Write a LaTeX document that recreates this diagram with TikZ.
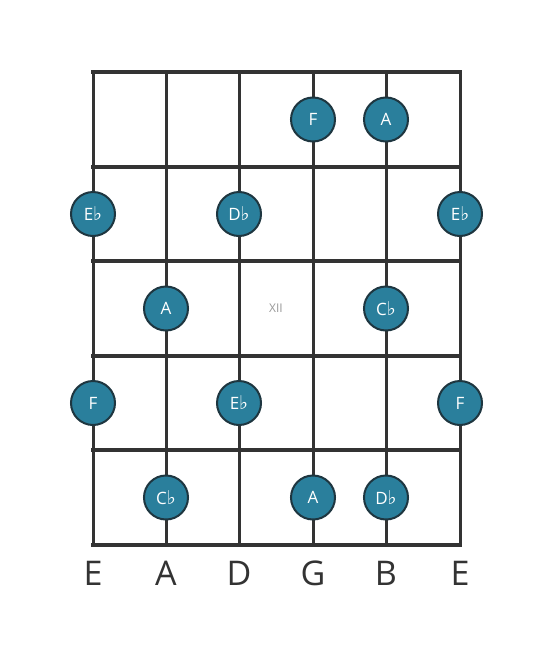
\documentclass[tikz,border=0pt]{standalone}
\usepackage{fontspec}
\setmainfont{Open Sans}
\newfontfamily\symfont{DejaVu Sans}
\definecolor{linec}{HTML}{333333}
\definecolor{dotfill}{HTML}{2A7F9C}
\definecolor{dotedge}{HTML}{1E3640}
\newcommand{\fl}{{\symfont\fontsize{19}{19}\selectfont ♭}}
\begin{document}
\begin{tikzpicture}[x=1pt,y=-1pt,
  fretline/.style={draw=linec,line width=4pt},
  stringline/.style={draw=linec,line width=3pt},
  notedot/.style={circle,fill=dotfill,draw=dotedge,line width=2pt,minimum size=44pt,inner sep=0pt,text=white,font=\fontsize{17}{17}\selectfont},
  strlabel/.style={text=linec,font=\fontsize{34}{34}\selectfont}]
\useasboundingbox (0,0) rectangle (553,656);
\fill[white] (0,0) rectangle (553,656);
% strings
\foreach \x [count=\i] in {93,166,239,313,386,460}{
  \coordinate (st\i) at (\x,72);
  \coordinate (sb\i) at (\x,545);
  \draw[stringline] (st\i) -- (sb\i);
}
% frets
\foreach \y [count=\j] in {72,167,261,356,450,545}{
  \coordinate (fl\j) at (91,\y);
  \coordinate (fr\j) at (462,\y);
  \draw[fretline] (fl\j) -- (fr\j);
}
\node[text=gray!80,font=\fontsize{12}{12}\selectfont] (xii) at (276,308.5) {XII};
% notes
\node[notedot] (n1) at (313,119.5) {F};
\node[notedot] (n2) at (386,119.5) {A};
\node[notedot] (n3) at (93,214) {E\fl};
\node[notedot] (n4) at (239,214) {D\fl};
\node[notedot] (n5) at (460,214) {E\fl};
\node[notedot] (n6) at (166,308.5) {A};
\node[notedot] (n7) at (386,308.5) {C\fl};
\node[notedot] (n8) at (93,403) {F};
\node[notedot] (n9) at (239,403) {E\fl};
\node[notedot] (n10) at (460,403) {F};
\node[notedot] (n11) at (166,497.5) {C\fl};
\node[notedot] (n12) at (313,497.5) {A};
\node[notedot] (n13) at (386,497.5) {D\fl};
% string names
\foreach \x/\n [count=\k] in {93/E,166/A,239/D,313/G,386/B,460/E}{
  \node[strlabel] (lab\k) at (\x,573) {\n};
}
\end{tikzpicture}
\end{document}
